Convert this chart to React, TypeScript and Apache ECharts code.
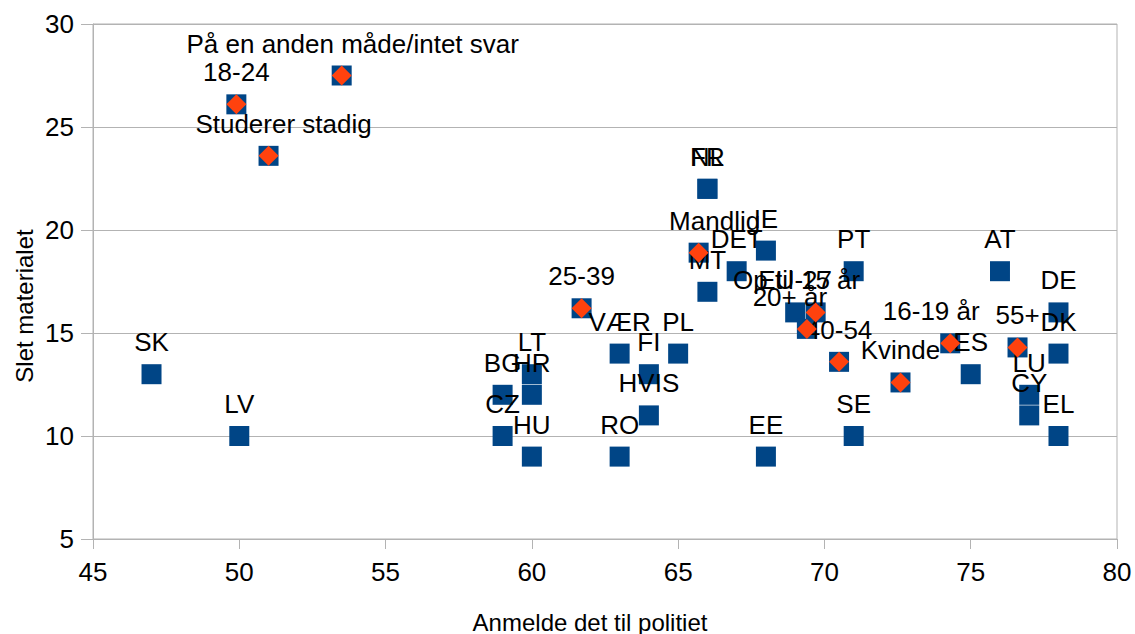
import React, { useEffect, useRef } from "react";
import * as echarts from "echarts";

// Countries (blue squares)
const countryNames = [
  "SK", "LV", "BG", "CZ", "LT", "HR", "HU", "RO", "VÆR", "FI", "HVIS", "PL",
  "FR", "NL", "MT", "DET", "IE", "EE", "EU-27", "PT", "SE", "ES", "AT", "DE",
  "DK", "LU", "CY", "EL",
];
const countryX = [
  47, 50, 59, 59, 60, 60, 60, 63, 63, 64, 64, 65,
  66, 66, 66, 67, 68, 68, 69, 71, 71, 75, 76, 78,
  78, 77, 77, 78,
];
const countryY = [
  13, 10, 12, 10, 13, 12, 9, 9, 14, 13, 11, 14,
  22, 22, 17, 18, 19, 9, 16, 18, 10, 13, 18, 16,
  14, 12, 11, 10,
];

// Groups (orange diamonds over blue squares)
const groupNames = [
  "På en anden måde/intet svar", "18-24", "Studerer stadig", "25-39",
  "Mandlig", "Op til 15 år", "20+ år", "40-54", "Kvinde", "16-19 år", "55+",
];
const groupX = [53.5, 49.9, 51.0, 61.7, 65.7, 69.7, 69.4, 70.5, 72.6, 74.3, 76.6];
const groupY = [27.5, 26.1, 23.6, 16.2, 18.9, 16.0, 15.2, 13.6, 12.6, 14.5, 14.3];

const xTicks = { min: 45, max: 80, interval: 5 };
const yTicks = { min: 5, max: 30, interval: 5 };

const xTitle = "Anmelde det til politiet";
const yTitle = "Slet materialet";

// label horizontal shifts (style only)
const labelShift: Record<string, number> = {
  "Op til 15 år": -19,
  "20+ år": -17,
  "16-19 år": -19,
  "Studerer stadig": 15,
  "På en anden måde/intet svar": 11,
  "Mandlig": 16,
};

const FONT = "'Liberation Sans', Arial, sans-serif";
const BLUE = "#004586";
const ORANGE = "#ff420e";
const GRID = "#b3b3b3";

export default function App() {
  const ref = useRef<HTMLDivElement>(null);
  useEffect(() => {
    document.body.style.margin = "0";
    if (!ref.current) return;
    const chart = echarts.init(ref.current, undefined, { renderer: "svg" });

    const allPoints = [
      ...countryNames.map((n, i) => ({ name: n, value: [countryX[i], countryY[i]] })),
      ...groupNames.map((n, i) => ({ name: n, value: [groupX[i], groupY[i]] })),
    ].map((d) => ({
      ...d,
      label: labelShift[d.name] ? { offset: [labelShift[d.name], 0] } : undefined,
    }));

    const groupPoints = groupNames.map((n, i) => ({ name: n, value: [groupX[i], groupY[i]] }));

    chart.setOption({
      animation: false,
      textStyle: { fontFamily: FONT },
      grid: {
        left: 93,
        right: 18,
        top: 24,
        bottom: 95,
        show: true,
        borderColor: GRID,
        borderWidth: 1,
        containLabel: false,
      },
      xAxis: {
        type: "value",
        min: xTicks.min,
        max: xTicks.max,
        interval: xTicks.interval,
        axisLine: { show: true, lineStyle: { color: GRID, width: 1 } },
        axisTick: { show: true, length: 10, lineStyle: { color: GRID } },
        splitLine: { show: false },
        axisLabel: { color: "#000", fontSize: 26, fontFamily: FONT, margin: 20 },
      },
      yAxis: {
        type: "value",
        min: yTicks.min,
        max: yTicks.max,
        interval: yTicks.interval,
        axisLine: { show: true, lineStyle: { color: GRID, width: 1 } },
        axisTick: { show: true, length: 12, lineStyle: { color: GRID } },
        splitLine: { show: true, lineStyle: { color: GRID, width: 1 } },
        axisLabel: { color: "#000", fontSize: 26, fontFamily: FONT, margin: 19 },
      },
      series: [
        {
          type: "scatter",
          symbol: "rect",
          symbolSize: 20,
          itemStyle: { color: BLUE, opacity: 1 },
          data: allPoints,
          label: {
            show: true,
            position: "top",
            distance: 9,
            formatter: "{b}",
            color: "#000",
            opacity: 1,
            fontSize: 26,
            fontFamily: FONT,
          },
          emphasis: { disabled: true },
          z: 2,
        },
        {
          type: "scatter",
          symbol: "diamond",
          symbolSize: 20,
          itemStyle: { color: ORANGE, opacity: 1 },
          data: groupPoints,
          label: { show: false },
          emphasis: { disabled: true },
          z: 3,
        },
      ],
      graphic: [
        {
          type: "text",
          x: 590,
          y: 622,
          style: {
            text: xTitle,
            fontSize: 24,
            fontFamily: FONT,
            fill: "#000",
            textAlign: "center",
            textVerticalAlign: "middle",
          },
        },
        {
          type: "text",
          x: 24,
          y: 306,
          rotation: Math.PI / 2,
          style: {
            text: yTitle,
            fontSize: 24,
            fontFamily: FONT,
            fill: "#000",
            textAlign: "center",
            textVerticalAlign: "middle",
          },
        },
      ],
    });
    return () => chart.dispose();
  }, []);
  return <div ref={ref} style={{ width: 1135, height: 634 }} />;
}
